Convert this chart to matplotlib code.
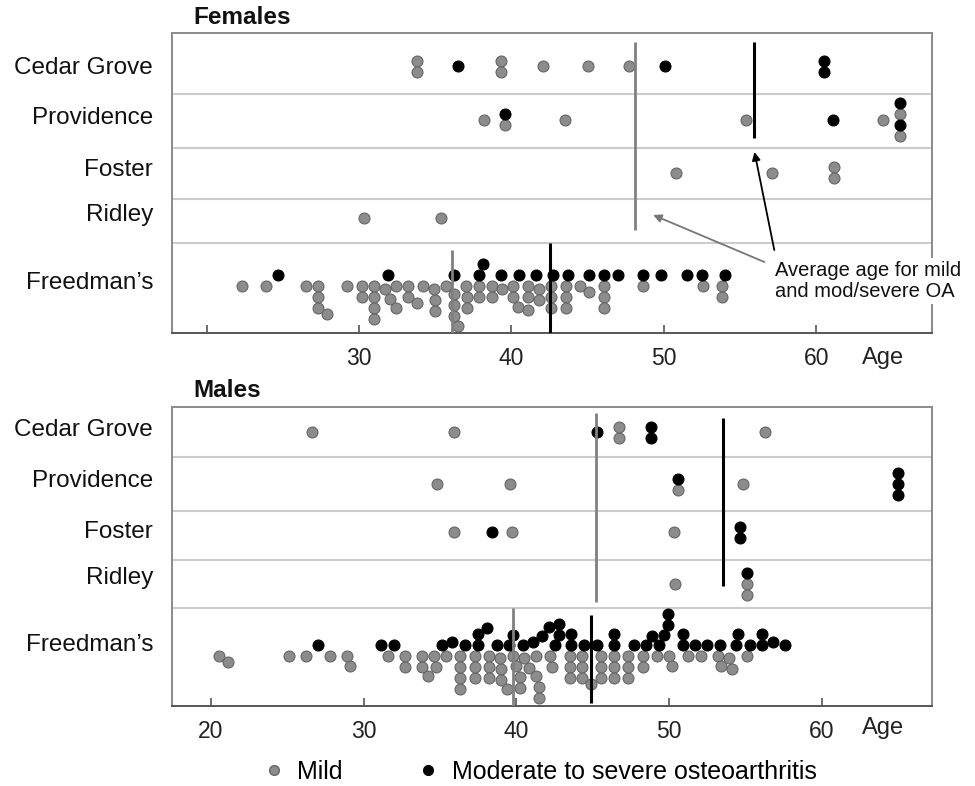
import numpy as np
import matplotlib
matplotlib.use('Agg')
import matplotlib.pyplot as plt
from matplotlib.lines import Line2D

plt.rcParams['font.family'] = ['Liberation Sans', 'DejaVu Sans']

# ---- data (ages) ----
sites = ['Cedar Grove', 'Providence', 'Foster', 'Ridley', 'Freedman\u2019s']

f_cedar_mild = [33.8, 33.8, 39.3, 39.3, 42.1, 45.0, 47.7]
f_cedar_sev = [36.5, 50.1, 60.5, 60.5]
f_prov_mild = [38.2, 39.6, 43.5, 55.4, 64.4, 65.5, 65.5]
f_prov_sev = [39.6, 61.1, 65.5, 65.5]
f_foster_mild = [50.8, 57.1, 61.2, 61.2]
f_foster_sev = []
f_ridley_mild = [30.3, 35.4]
f_ridley_sev = []
f_freed_mild = [22.3, 23.9, 26.5, 27.3, 27.3, 27.3, 27.9, 29.2, 30.2, 30.2,
                31.0, 31.0, 31.0, 31.0, 31.7, 32.0, 32.4, 32.4, 33.2, 33.2,
                33.8, 34.2, 35.0, 35.0, 34.9, 35.7, 36.2, 36.2, 36.2, 36.5,
                37.1, 37.1, 37.0, 37.9, 37.9, 38.7, 38.7, 39.4, 40.1, 40.1,
                40.4, 41.1, 41.1, 41.1, 41.8, 41.8, 42.6, 42.6, 42.6, 43.6,
                43.6, 43.6, 44.5, 45.1, 46.1, 46.1, 46.1, 48.6, 52.6, 53.8, 53.8]
f_freed_sev = [24.7, 31.9, 36.2, 37.9, 38.1, 39.3, 40.5, 41.6, 42.7, 43.7,
               45.1, 46.1, 47.0, 48.6, 49.8, 51.5, 52.5, 54.0]

m_cedar_mild = [26.6, 35.9, 46.7, 46.7, 56.3]
m_cedar_sev = [45.3, 48.8, 48.8]
m_prov_mild = [34.8, 39.6, 50.6, 54.8]
m_prov_sev = [50.6, 65.0, 65.0, 65.0]
m_foster_mild = [35.9, 39.7, 50.3]
m_foster_sev = [38.4, 54.6, 54.6]
m_ridley_mild = [50.4, 55.1, 55.1]
m_ridley_sev = [55.1]
m_freed_mild = [20.5, 21.1, 25.1, 26.2, 27.8, 29.1, 28.9, 31.6, 32.7, 32.7,
                33.8, 33.8, 34.7, 34.6, 34.2, 35.4, 36.3, 36.3, 36.3, 36.3,
                37.3, 37.3, 37.3, 38.2, 38.2, 38.2, 39.0, 39.0, 39.4, 38.9,
                39.8, 40.0, 40.2, 40.2, 40.5, 40.8, 41.3, 41.3, 41.5, 41.5,
                42.3, 42.2, 43.5, 43.5, 43.5, 44.3, 44.3, 44.3, 44.9, 45.5,
                45.5, 45.5, 46.4, 46.4, 46.4, 47.3, 47.3, 47.3, 48.25, 48.25,
                49.2, 50.0, 50.2, 51.2, 52.1, 53.2, 53.4, 53.9, 54.1, 55.1]
m_freed_sev = [27.0, 31.1, 32.0, 35.1, 35.8, 36.6, 37.5, 37.5, 38.1, 38.7,
               39.5, 39.8, 40.4, 41.1, 41.7, 42.1, 42.5, 42.8, 42.8, 43.6,
               43.6, 44.4, 45.3, 46.4, 46.4, 47.7, 48.5, 48.9, 49.3, 49.65,
               49.9, 49.9, 50.9, 50.9, 51.7, 52.5, 53.3, 54.4, 54.5, 55.3,
               56.1, 56.1, 56.8, 57.6]

# average ages (mild, mod/severe): other sites, Freedman's
f_avg_sites = [48.1, 55.9]
f_avg_freed = [36.1, 42.5]
m_avg_sites = [45.2, 53.5]
m_avg_freed = [39.8, 44.9]

GREY = '#8c8c8c'
GREY_EDGE = '#666666'
DOT = 11.0  # dot spacing, px
W, H = 975, 786


def stack_small(mild, sev, centre):
    # identical ages are stacked around the row centre, severe first
    xs, ys, cs = [], [], []
    for age in sorted(set(mild) | set(sev)):
        m = mild.count(age); s = sev.count(age)
        seq = []
        while m or s:
            if s: seq.append('k'); s -= 1
            if m: seq.append('g'); m -= 1
        n = len(seq)
        for i, c in enumerate(seq):
            xs.append(age); ys.append(centre + (i - (n - 1) / 2.) * DOT); cs.append(c)
    return xs, ys, cs


def swarm(ages, ppy):
    # one-sided beeswarm in pixel units
    ages = np.asarray(ages, float)
    offs = np.zeros(len(ages))
    placed = []
    for i in np.argsort(ages, kind='stable'):
        x = ages[i] * ppy
        near = [(px, py) for px, py in placed if abs(px - x) < DOT]
        cands = [0.0] + [py + np.sqrt(DOT**2 - (px - x)**2) for px, py in near]
        for c in sorted(cands):
            if all((px - x)**2 + (py - c)**2 >= DOT**2 - 0.5 for px, py in near):
                break
        offs[i] = c
        placed.append((x, c))
    return offs


def draw_dots(ax, xs, ys, cs):
    xs = np.asarray(xs); ys = np.asarray(ys); cs = np.asarray(cs)
    g = cs == 'g'
    ax.scatter(xs[g], ys[g], s=62, c=GREY, edgecolors=GREY_EDGE, linewidths=0.8, zorder=3)
    ax.scatter(xs[~g], ys[~g], s=62, c='black', edgecolors='black', linewidths=0.8, zorder=3)


def panel(top, bottom, xlim, small_rows, seps, centres, freed, base, avg_sites, avg_freed,
          lines_sites, lines_freed, labels_y, title, title_y, ticklabels, age_y):
    ax = fig.add_axes([172 / W, 1 - bottom / H, (932 - 172) / W, (bottom - top) / H])
    ax.set_xlim(*xlim)
    ax.set_ylim(bottom, top)
    ppy = (932 - 172) / (xlim[1] - xlim[0])

    for s in seps:
        ax.axhline(s, color='#cccccc', lw=1.5, zorder=1)

    for (mild, sev), c in zip(small_rows, centres):
        draw_dots(ax, *stack_small(mild, sev, c))

    mild, sev = freed
    om = swarm(mild, ppy); os_ = swarm(sev, ppy)
    xs = list(mild) + list(sev)
    ys = list(base + om) + list(base - DOT - os_)
    cs = ['g'] * len(mild) + ['k'] * len(sev)
    draw_dots(ax, xs, ys, cs)

    ax.vlines(avg_sites[0], *lines_sites[0], color='#808080', lw=2.0, zorder=4)
    ax.vlines(avg_sites[1], *lines_sites[1], color='black', lw=2.2, zorder=4)
    ax.vlines(avg_freed[0], *lines_freed[0], color='#808080', lw=2.0, zorder=4)
    ax.vlines(avg_freed[1], *lines_freed[1], color='black', lw=2.2, zorder=4)

    ax.set_yticks([])
    ax.set_xticks([20, 30, 40, 50, 60])
    ax.set_xticklabels(ticklabels)
    ax.tick_params(axis='x', direction='in', length=6, width=1.2, color='#555555',
                   labelsize=16.5, labelcolor='#222222', pad=10)
    for sp in ax.spines.values():
        sp.set_color('#8a8a8a'); sp.set_linewidth(1.4)
    ax.spines['bottom'].set_color('#555555')

    for name, y in zip(sites, labels_y):
        fig.text(153 / W, 1 - y / H, name, ha='right', va='center', fontsize=17.5, color='#111111')
    fig.text(193 / W, 1 - title_y / H, title, ha='left', va='center', fontsize=17.5,
             fontweight='bold', color='#111111')
    fig.text(862 / W, 1 - age_y / H, 'Age', ha='left', va='center', fontsize=17, color='#222222')
    return ax


fig = plt.figure(figsize=(W / 100, H / 100), dpi=100)

ax_f = panel(33, 333, (17.72, 67.6),
             [(f_cedar_mild, f_cedar_sev), (f_prov_mild, f_prov_sev),
              (f_foster_mild, f_foster_sev), (f_ridley_mild, f_ridley_sev)],
             [94, 148, 199, 243], [66.5, 120, 173, 218],
             (f_freed_mild, f_freed_sev), 286.0, f_avg_sites, f_avg_freed,
             [(42, 230), (42, 138)], [(250, 333), (243, 333)],
             [68, 118, 170, 215, 283], 'Females', 18, ['', '30', '40', '50', '60'], 358)

ax_m = panel(407, 706, (17.45, 67.2),
             [(m_cedar_mild, m_cedar_sev), (m_prov_mild, m_prov_sev),
              (m_foster_mild, m_foster_sev), (m_ridley_mild, m_ridley_sev)],
             [457, 511, 560, 608], [432, 484, 532, 584],
             (m_freed_mild, m_freed_sev), 655.7, m_avg_sites, m_avg_freed,
             [(413, 602), (418, 586)], [(608, 706), (615, 703)],
             [430, 481, 532, 578, 645], 'Males', 390, ['20', '30', '40', '50', '60'], 728)

# annotation for the average lines
ax_f.annotate('', xy=(49.3, 215), xytext=(56.6, 262), annotation_clip=False,
              arrowprops=dict(arrowstyle='-|>', color='#777777', lw=1.3, mutation_scale=12,
                              shrinkA=0, shrinkB=0), zorder=5)
ax_f.annotate('', xy=(55.95, 152), xytext=(57.25, 250), annotation_clip=False,
              arrowprops=dict(arrowstyle='-|>', color='black', lw=1.3, mutation_scale=12,
                              shrinkA=0, shrinkB=0), zorder=5)
fig.text(775 / W, 1 - 281 / H, 'Average age for mild\nand mod/severe OA', ha='left', va='center',
         fontsize=14.5, linespacing=1.1, color='#111111', zorder=10,
         bbox=dict(facecolor='white', edgecolor='none', pad=2))

handles = [Line2D([], [], ls='none', marker='o', ms=7, mfc=GREY, mec=GREY_EDGE),
           Line2D([], [], ls='none', marker='o', ms=7, mfc='black', mec='black')]
fig.legend(handles, ['Mild', 'Moderate to severe osteoarthritis'], loc='center',
           bbox_to_anchor=(540 / W, 1 - 772 / H), ncol=2, frameon=False, fontsize=18,
           handlelength=0.8, handletextpad=0.55, columnspacing=3.0)

fig.savefig('out.png', dpi=100)
